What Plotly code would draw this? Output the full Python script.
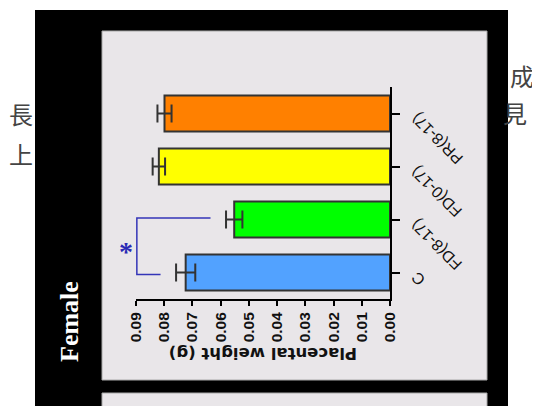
import plotly.graph_objects as go

# ---------------- data ----------------
categories = ["C", "FD(8-17)", "FD(0-17)", "PR(8-17)"]
means = [0.0724, 0.0552, 0.0819, 0.0799]
errors = [0.0034, 0.0029, 0.0022, 0.0025]
bar_colors = ["#52A2FF", "#00FF00", "#FFFF00", "#FF8000"]
x_tick_values = [0.00, 0.01, 0.02, 0.03, 0.04, 0.05, 0.06, 0.07, 0.08, 0.09]
x_tick_labels = ["0.00", "0.01", "0.02", "0.03", "0.04", "0.05", "0.06", "0.07", "0.08", "0.09"]
axis_title = "Placental weight (g)"
panel_label = "Female"
sig_pair = ["C", "FD(8-17)"]
sig_label = "*"
side_text_left = ["長", "上"]
side_text_right = ["成", "見"]

# ---------------- layout geometry (screen pixels) ----------------
W, H = 540, 406
OFF = 8  # page body margin
PL, PR_, PT, PB = 136, 390, 87, 299  # plot area on screen
PW, PH = PR_ - PL, PB - PT
ML = PL - OFF
MT = PT - OFF
MR = W - (PR_ - OFF)
MB = H - (PB - OFF)


def px(x):
    return (x - PL) / PW


def py(y):
    return (PB - y) / PH


ypos = list(range(len(categories)))

fig = go.Figure()
fig.add_trace(go.Bar(
    y=ypos, x=means, orientation="h", width=0.68,
    marker=dict(color=bar_colors, line=dict(color="#333333", width=2)),
    error_x=dict(type="data", array=errors, visible=True, color="#333333",
                 thickness=2, width=9),
    hoverinfo="skip", showlegend=False,
))

# significance bracket
i0 = categories.index(sig_pair[0])
i1 = categories.index(sig_pair[1])
arm_gap = 0.0055
bx = 0.0897
fig.add_trace(go.Scatter(
    x=[means[i1] + errors[i1] + arm_gap, bx, bx, means[i0] + errors[i0] + arm_gap],
    y=[i1 + 0.03, i1 + 0.03, i0 - 0.04, i0 - 0.04],
    mode="lines", line=dict(color="#3434b8", width=1.5),
    hoverinfo="skip", showlegend=False,
))

shapes = [
    dict(type="rect", xref="paper", yref="paper", layer="below",
         x0=px(35), x1=px(508), y0=py(430), y1=py(10),
         fillcolor="#000000", line=dict(width=0)),
    dict(type="rect", xref="paper", yref="paper", layer="below",
         x0=px(102), x1=px(487), y0=py(380), y1=py(31),
         fillcolor="#e9e6e9", line=dict(color="#a8a8a8", width=1)),
    dict(type="rect", xref="paper", yref="paper", layer="below",
         x0=px(102), x1=px(487), y0=py(430), y1=py(393),
         fillcolor="#e9e6e9", line=dict(color="#a8a8a8", width=1)),
]

annotations = []
tick_font = dict(family="Liberation Sans", size=15.5, color="#111111", weight="bold")
cat_font = dict(family="Liberation Sans", size=16, color="#111111")
for i, c in enumerate(categories):
    annotations.append(dict(
        x=px(405), xref="paper", xanchor="left",
        y=i, yref="y", yanchor="top", yshift=7,
        text=c, textangle=-135, showarrow=False, font=cat_font,
    ))

annotations.append(dict(
    x=0.5, xref="paper", y=py(353.5), yref="paper",
    xanchor="center", yanchor="middle",
    text=axis_title, textangle=180, showarrow=False,
    font=dict(family="DejaVu Sans", size=16.5, color="#111111", weight="bold"),
))
annotations.append(dict(
    x=px(69), xref="paper", y=py(322), yref="paper",
    xanchor="center", yanchor="middle",
    text=panel_label, textangle=-90, showarrow=False,
    font=dict(family="Liberation Serif", size=26, color="#ffffff", weight="bold"),
))
annotations.append(dict(
    x=0.09, xref="x", xshift=-10, y=(i0 + i1) / 2, yref="y", yshift=-5,
    xanchor="center", yanchor="middle",
    text=sig_label, showarrow=False,
    font=dict(family="Liberation Serif", size=28, color="#2a2ab5", weight="bold"),
))

cjk_font = dict(family="Noto Sans CJK TC", size=24, color="#444444")
for ch, yy in zip(side_text_left, [113, 153]):
    annotations.append(dict(x=px(21), xref="paper", y=py(yy), yref="paper",
                            xanchor="center", yanchor="middle",
                            text=ch, showarrow=False, font=cjk_font))
for ch, (xx, yy) in zip(side_text_right, [(522, 75), (515, 112)]):
    annotations.append(dict(x=px(xx), xref="paper", y=py(yy), yref="paper",
                            xanchor="center", yanchor="middle",
                            text=ch, showarrow=False, font=cjk_font))

fig.update_layout(
    width=W, height=H,
    margin=dict(l=ML, r=MR, t=MT, b=MB, pad=0),
    paper_bgcolor="#ffffff", plot_bgcolor="rgba(0,0,0,0)",
    bargap=0.32,
    shapes=shapes, annotations=annotations,
    xaxis=dict(
        range=[0.09, 0], tickvals=x_tick_values, ticktext=x_tick_labels,
        tickangle=-90, ticks="outside", ticklen=5, tickwidth=2, tickcolor="#000",
        showline=True, linecolor="#000", linewidth=2,
        showgrid=False, zeroline=False, tickfont=tick_font,
    ),
    yaxis=dict(
        range=[-0.5, 3.5], tickvals=ypos, side="right",
        ticks="outside", ticklen=8, tickwidth=2, tickcolor="#000",
        showline=True, linecolor="#000", linewidth=2,
        showgrid=False, zeroline=False, showticklabels=False,
    ),
)

fig.write_html("out.html")
